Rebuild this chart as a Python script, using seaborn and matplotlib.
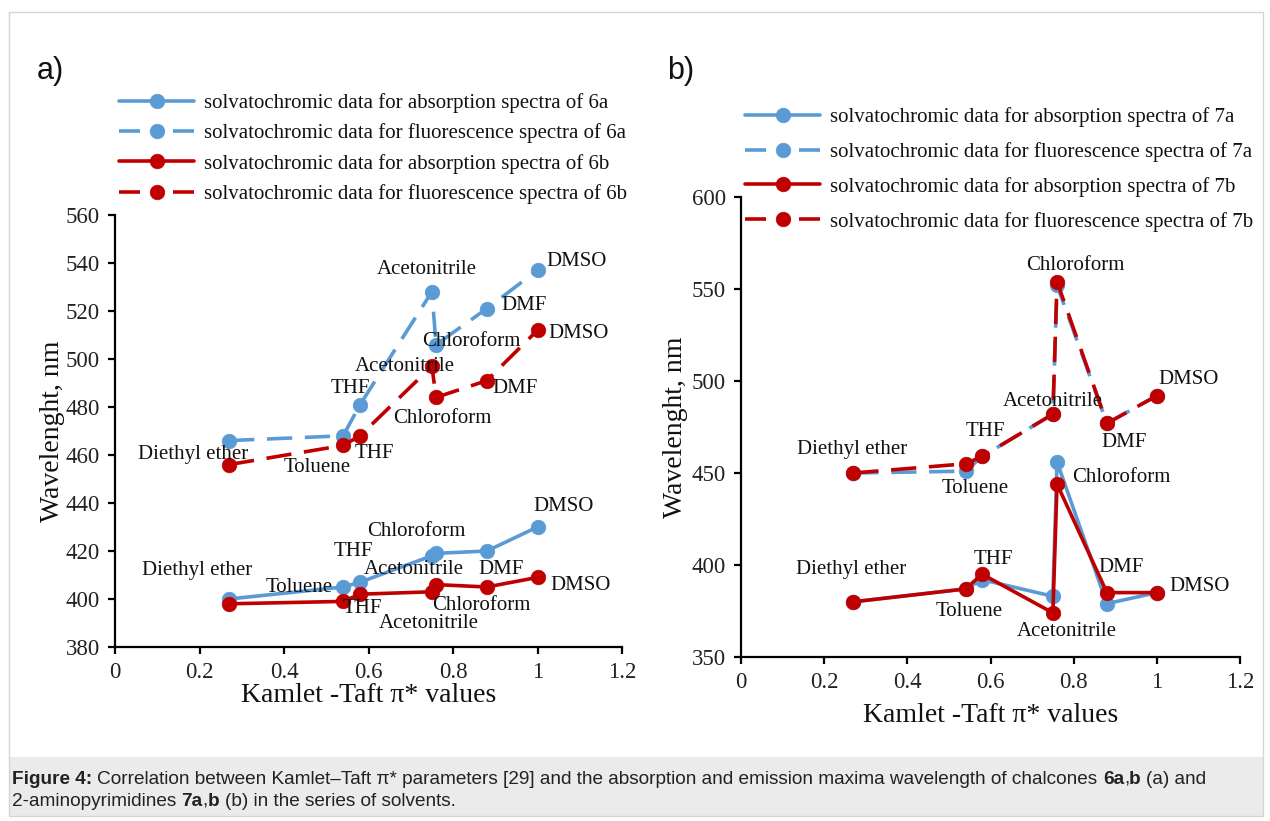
import matplotlib
matplotlib.use("Agg")
import matplotlib.pyplot as plt
import seaborn as sns
import pandas as pd
from matplotlib.patches import Rectangle

# ---------------- data ----------------
solvents = ["Diethyl ether", "Toluene", "THF", "Acetonitrile", "Chloroform", "DMF", "DMSO"]
pi_star = [0.27, 0.54, 0.58, 0.75, 0.76, 0.88, 1.00]

abs_6a = [400, 405, 407, 418, 419, 420, 430]
fl_6a = [466, 468, 481, 528, 506, 521, 537]
abs_6b = [398, 399, 402, 403, 406, 405, 409]
fl_6b = [456, 464, 468, 497, 484, 491, 512]

abs_7a = [380, 387, 392, 383, 456, 379, 385]
fl_7a = [450, 451, 459, 482, 552, 477, 492]
abs_7b = [380, 387, 395, 374, 444, 385, 385]
fl_7b = [450, 455, 459, 482, 554, 477, 492]

legend_a = ["solvatochromic data for absorption spectra of 6a",
            "solvatochromic data for fluorescence spectra of 6a",
            "solvatochromic data for absorption spectra of 6b",
            "solvatochromic data for fluorescence spectra of 6b"]
legend_b = ["solvatochromic data for absorption spectra of 7a",
            "solvatochromic data for fluorescence spectra of 7a",
            "solvatochromic data for absorption spectra of 7b",
            "solvatochromic data for fluorescence spectra of 7b"]

x_ticks = [0, 0.2, 0.4, 0.6, 0.8, 1.0, 1.2]
x_tick_labels = ["0", "0.2", "0.4", "0.6", "0.8", "1", "1.2"]
y_ticks_a = [380, 400, 420, 440, 460, 480, 500, 520, 540, 560]
y_ticks_b = [350, 400, 450, 500, 550, 600]

# label placement (text, x, y) in data coordinates
labels_a = [
    ("Diethyl ether", 0.185, 460.4), ("Toluene", 0.478, 454.6), ("THF", 0.557, 487.9),
    ("THF", 0.615, 460.8), ("Acetonitrile", 0.739, 537.1), ("Chloroform", 0.844, 507.3),
    ("Acetonitrile", 0.686, 496.9), ("Chloroform", 0.774, 475.4), ("DMF", 0.969, 522.1),
    ("DMF", 0.946, 487.6), ("DMSO", 1.093, 540.6), ("DMSO", 1.097, 510.7),
    ("Diethyl ether", 0.195, 412.0), ("Toluene", 0.435, 404.8), ("THF", 0.564, 419.6),
    ("Acetonitrile", 0.708, 412.4), ("Chloroform", 0.712, 428.3), ("DMF", 0.913, 412.4),
    ("DMSO", 1.061, 438.6), ("THF", 0.585, 395.9), ("Acetonitrile", 0.742, 389.7),
    ("Chloroform", 0.868, 397.2), ("DMSO", 1.103, 405.5),
]
labels_b = [
    ("Chloroform", 0.804, 562.7), ("DMSO", 1.076, 500.9), ("Acetonitrile", 0.749, 489.1),
    ("THF", 0.587, 472.7), ("DMF", 0.921, 466.4), ("Diethyl ether", 0.268, 462.7),
    ("Toluene", 0.562, 441.8), ("Chloroform", 0.915, 447.3),
    ("Diethyl ether", 0.266, 397.4), ("THF", 0.606, 402.9), ("Toluene", 0.549, 374.6),
    ("Acetonitrile", 0.784, 364.1), ("DMF", 0.913, 398.4), ("DMSO", 1.103, 388.3),
]

caption_line1 = [("Figure 4:", "bold"),
                 ("Correlation between Kamlet–Taft π* parameters [29] and the absorption and "
                  "emission maxima wavelength of chalcones", "normal"),
                 ("6a", "bold"), (",", "normal"), ("b", "bold"), ("(a) and", "normal")]
caption_line2 = [("2-aminopyrimidines", "normal"), ("7a", "bold"), (",", "normal"),
                 ("b", "bold"), ("(b) in the series of solvents.", "normal")]

# ---------------- style ----------------
BLUE = "#5B9BD5"
RED = "#C00000"
SERIF = ["Liberation Serif", "DejaVu Serif"]
SANS = ["Liberation Sans", "DejaVu Sans"]

sns.set_theme(style="white")
plt.rcParams["font.family"] = SERIF

W, H = 1270, 821
fig = plt.figure(figsize=(W / 100, H / 100), dpi=100)
fig.patch.set_facecolor("white")

# frame + caption background
fig.patches.append(Rectangle((9 / W, 1 - 816 / H), 1254 / W, 59 / H, transform=fig.transFigure,
                             facecolor="#EBEBEB", edgecolor="none", zorder=0))
fig.patches.append(Rectangle((9 / W, 1 - 816 / H), 1254 / W, 804 / H, transform=fig.transFigure,
                             facecolor="none", edgecolor="#D5D5D5", lw=1.0, zorder=1))

ax_a = fig.add_axes([115 / W, 1 - 647 / H, 507 / W, 432 / H])
ax_b = fig.add_axes([741 / W, 1 - 657 / H, 499 / W, 460 / H])

LW = 2.6
MS = 10.5
DASH = (0, (7.0, 3.5))
FS_LAB = 15
FS_LEG = 15
HLEN = 3.6


def draw_panel(ax, series, legend_labels, labels, yticks, ylim, leg_anchor, leg_spacing):
    styles = []
    for (vals, color, ls), lab in zip(series, legend_labels):
        df = pd.DataFrame({"pi": pi_star, "wl": vals})
        sns.lineplot(data=df, x="pi", y="wl", ax=ax, color=color, linestyle=ls, lw=LW,
                     marker="o", markersize=MS, markeredgecolor=color, markeredgewidth=0.5,
                     label=lab, legend=False, errorbar=None, sort=False)
        styles.append(ls)
    ax.set_xlim(0, 1.2)
    ax.set_ylim(*ylim)
    ax.set_xticks(x_ticks)
    ax.set_xticklabels(x_tick_labels)
    ax.set_yticks(yticks)
    ax.set_yticklabels([str(v) for v in yticks])
    for s in ["top", "right"]:
        ax.spines[s].set_visible(False)
    for s in ["left", "bottom"]:
        ax.spines[s].set_color("black")
        ax.spines[s].set_linewidth(1.6)
    ax.tick_params(axis="both", which="major", direction="out", length=5, width=1.6,
                   color="black", labelsize=16.5, labelcolor="#222222", pad=6,
                   left=True, bottom=True)
    ax.set_xlabel("Kamlet -Taft π* values", fontsize=20, color="#111111", labelpad=0)
    ax.set_ylabel("Wavelenght, nm", fontsize=20, color="#111111")
    ax.set_facecolor("white")
    ax.grid(False)
    for text, x, y in labels:
        ax.text(x, y, text, ha="center", va="center", fontsize=FS_LAB, color="#111111", zorder=5)
    handles = ax.get_lines()
    leg = ax.legend(handles, legend_labels, loc="upper left", bbox_to_anchor=leg_anchor,
                    bbox_transform=fig.transFigure, frameon=False, fontsize=FS_LEG,
                    handlelength=HLEN, handletextpad=0.5, labelspacing=leg_spacing,
                    borderpad=0, borderaxespad=0, numpoints=1)
    for t in leg.get_texts():
        t.set_color("#111111")
    # dashed legend handles drawn as "dash - marker - dash"
    units = HLEN * FS_LEG / LW
    for line, ls in zip(leg.get_lines(), styles):
        if ls != "-":
            line.set_linestyle((0, (0.28 * units, 0.44 * units, 0.28 * units, 2 * units)))


draw_panel(ax_a,
           [(abs_6a, BLUE, "-"), (fl_6a, BLUE, DASH), (abs_6b, RED, "-"), (fl_6b, RED, DASH)],
           legend_a, labels_a, y_ticks_a, (380, 560), (119 / W, 1 - 93 / H), 0.5)
draw_panel(ax_b,
           [(abs_7a, BLUE, "-"), (fl_7a, BLUE, DASH), (abs_7b, RED, "-"), (fl_7b, RED, DASH)],
           legend_b, labels_b, y_ticks_b, (350, 600), (745 / W, 1 - 107 / H), 0.72)

ax_a.yaxis.set_label_coords(-0.098, 0.5)
ax_b.yaxis.set_label_coords(-0.106, 0.5)
ax_b.xaxis.set_label_coords(0.5, -0.1)

# panel letters
fig.text(37 / W, 1 - 71 / H, "a)", family=SANS, fontsize=22, va="center", ha="left", color="#111111")
fig.text(667 / W, 1 - 71 / H, "b)", family=SANS, fontsize=22, va="center", ha="left", color="#111111")

# caption, drawn piece by piece
r = fig.canvas.get_renderer()


def text_width(s, fs, weight):
    t = fig.text(0, 0, s, family=SANS, fontsize=fs, fontweight=weight)
    w = t.get_window_extent(renderer=r).width
    t.remove()
    return w


def line_width(pieces, fs):
    sp = text_width("a a", fs, "normal") - text_width("aa", fs, "normal")
    total = 0
    for i, (s, wgt) in enumerate(pieces):
        total += text_width(s, fs, wgt)
        if i + 1 < len(pieces) and pieces[i + 1][0] != "," and s != ",":
            total += sp
    return total


fs_cap = 12 * 1203 / line_width(caption_line1, 12)


def draw_line(pieces, y_px, fs):
    sp = text_width("a a", fs, "normal") - text_width("aa", fs, "normal")
    x = 12.0
    for i, (s, wgt) in enumerate(pieces):
        fig.text(x / W, 1 - y_px / H, s, family=SANS, fontsize=fs, fontweight=wgt,
                 va="center", ha="left", color="#222222")
        x += text_width(s, fs, wgt)
        if i + 1 < len(pieces) and pieces[i + 1][0] != "," and s != ",":
            x += sp


draw_line(caption_line1, 779, fs_cap)
draw_line(caption_line2, 801, fs_cap)

fig.savefig("out.png", dpi=100, facecolor="white")
